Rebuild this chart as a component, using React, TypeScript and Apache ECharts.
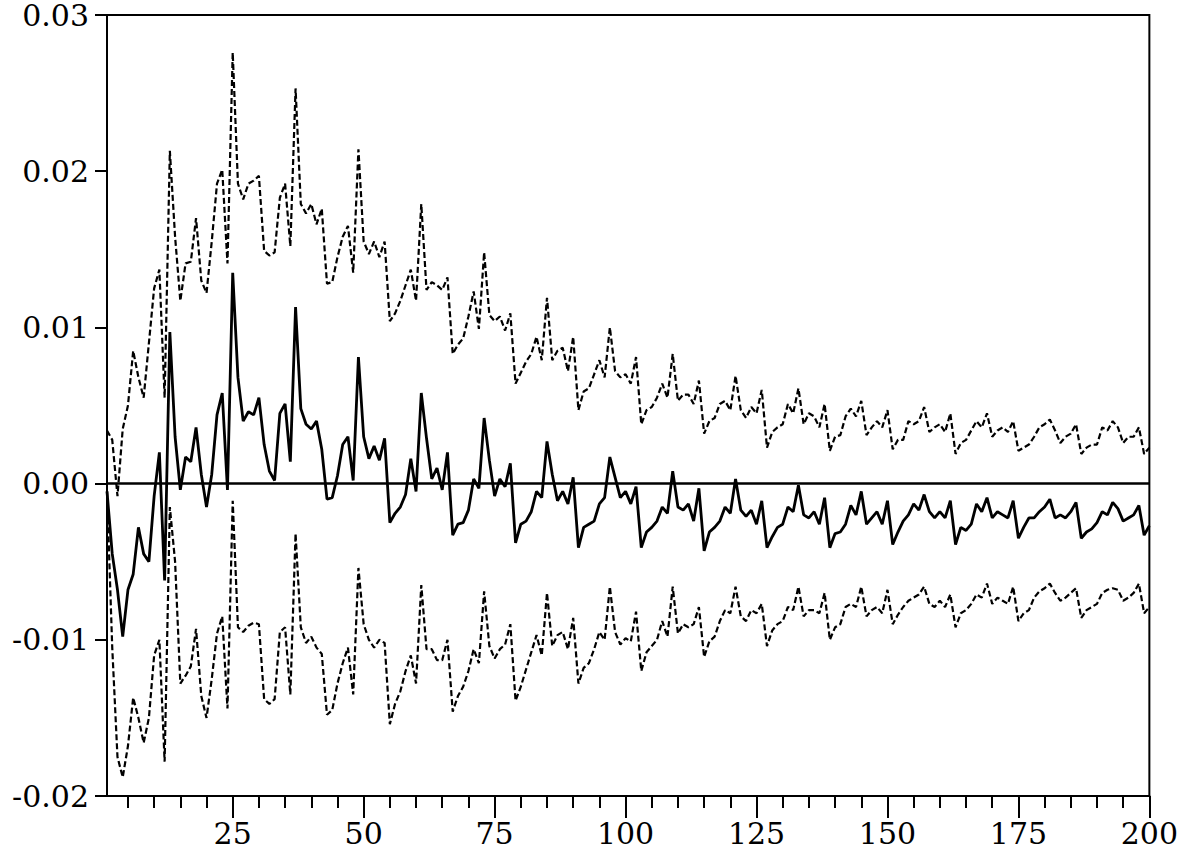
import React, { useEffect, useRef } from "react";
import * as echarts from "echarts";

const periods: string[] = Array.from({ length: 200 }, (_, i) => String(i + 1));

const response: number[] = [
  -0.0005, -0.0045, -0.0068, -0.0098, -0.0068, -0.0058, -0.0028, -0.0045, -0.0050, -0.0008,
  0.0020, -0.0062, 0.0097, 0.0030, -0.0004, 0.0017, 0.0014, 0.0036, 0.0006, -0.0015,
  0.0006, 0.0044, 0.0058, -0.0004, 0.0135, 0.0068, 0.0040, 0.0046, 0.0044, 0.0055,
  0.0025, 0.0008, 0.0002, 0.0045, 0.0051, 0.0014, 0.0113, 0.0048, 0.0038, 0.0035,
  0.0040, 0.0022, -0.0010, -0.0009, 0.0005, 0.0025, 0.0030, 0.0002, 0.0081, 0.0030,
  0.0016, 0.0024, 0.0015, 0.0029, -0.0025, -0.0019, -0.0015, -0.0007, 0.0016, -0.0005,
  0.0058, 0.0029, 0.0003, 0.0010, -0.0004, 0.0020, -0.0033, -0.0026, -0.0025, -0.0017,
  0.0003, -0.0003, 0.0042, 0.0015, -0.0008, 0.0003, -0.0002, 0.0013, -0.0038, -0.0026,
  -0.0024, -0.0018, -0.0005, -0.0009, 0.0027, 0.0006, -0.0011, -0.0005, -0.0013, 0.0004,
  -0.0041, -0.0028, -0.0026, -0.0024, -0.0013, -0.0009, 0.0017, 0.0004, -0.0009, -0.0005,
  -0.0013, -0.0002, -0.0041, -0.0031, -0.0028, -0.0024, -0.0015, -0.0019, 0.0008, -0.0015,
  -0.0017, -0.0013, -0.0024, -0.0003, -0.0043, -0.0031, -0.0028, -0.0024, -0.0015, -0.0019,
  0.0003, -0.0017, -0.0021, -0.0017, -0.0026, -0.0011, -0.0041, -0.0034, -0.0028, -0.0026,
  -0.0015, -0.0018, -0.0001, -0.0020, -0.0022, -0.0018, -0.0026, -0.0009, -0.0041, -0.0032,
  -0.0031, -0.0026, -0.0014, -0.0020, -0.0005, -0.0026, -0.0022, -0.0018, -0.0026, -0.0011,
  -0.0039, -0.0031, -0.0024, -0.0020, -0.0013, -0.0017, -0.0007, -0.0018, -0.0022, -0.0018,
  -0.0022, -0.0011, -0.0039, -0.0028, -0.0030, -0.0026, -0.0013, -0.0018, -0.0009, -0.0022,
  -0.0018, -0.0020, -0.0022, -0.0011, -0.0035, -0.0028, -0.0022, -0.0022, -0.0018, -0.0015,
  -0.0010, -0.0022, -0.0020, -0.0022, -0.0018, -0.0012, -0.0035, -0.0031, -0.0029, -0.0025,
  -0.0018, -0.0020, -0.0012, -0.0016, -0.0024, -0.0022, -0.0020, -0.0014, -0.0033, -0.0027,
];

const upperBand: number[] = [
  0.0034, 0.0028, -0.0008, 0.0035, 0.0050, 0.0085, 0.0068, 0.0055, 0.0090, 0.0125,
  0.0137, 0.0055, 0.0213, 0.0158, 0.0117, 0.0141, 0.0142, 0.0170, 0.0130, 0.0122,
  0.0155, 0.0192, 0.0201, 0.0141, 0.0276, 0.0192, 0.0182, 0.0192, 0.0194, 0.0197,
  0.0149, 0.0146, 0.0148, 0.0183, 0.0192, 0.0152, 0.0253, 0.0179, 0.0173, 0.0179,
  0.0166, 0.0176, 0.0128, 0.0129, 0.0145, 0.0158, 0.0165, 0.0135, 0.0214, 0.0155,
  0.0147, 0.0155, 0.0145, 0.0155, 0.0104, 0.0109, 0.0117, 0.0127, 0.0137, 0.0117,
  0.0179, 0.0124, 0.0129, 0.0127, 0.0124, 0.0132, 0.0083, 0.0089, 0.0093, 0.0107,
  0.0123, 0.0099, 0.0148, 0.0108, 0.0104, 0.0107, 0.0098, 0.0109, 0.0064, 0.0071,
  0.0078, 0.0083, 0.0094, 0.0079, 0.0119, 0.0079, 0.0085, 0.0087, 0.0072, 0.0094,
  0.0047, 0.0059, 0.0061, 0.0070, 0.0079, 0.0068, 0.0100, 0.0072, 0.0068, 0.0070,
  0.0064, 0.0081, 0.0038, 0.0047, 0.0049, 0.0055, 0.0064, 0.0055, 0.0083, 0.0053,
  0.0057, 0.0057, 0.0051, 0.0066, 0.0032, 0.0040, 0.0042, 0.0051, 0.0053, 0.0047,
  0.0069, 0.0047, 0.0042, 0.0049, 0.0045, 0.0060, 0.0023, 0.0033, 0.0036, 0.0038,
  0.0051, 0.0045, 0.0061, 0.0038, 0.0045, 0.0043, 0.0036, 0.0051, 0.0021, 0.0030,
  0.0031, 0.0043, 0.0048, 0.0043, 0.0053, 0.0031, 0.0036, 0.0040, 0.0036, 0.0047,
  0.0022, 0.0028, 0.0028, 0.0040, 0.0038, 0.0040, 0.0049, 0.0033, 0.0036, 0.0038,
  0.0033, 0.0045, 0.0019, 0.0026, 0.0028, 0.0034, 0.0040, 0.0036, 0.0045, 0.0030,
  0.0034, 0.0036, 0.0033, 0.0040, 0.0021, 0.0023, 0.0025, 0.0030, 0.0036, 0.0038,
  0.0041, 0.0034, 0.0026, 0.0030, 0.0032, 0.0038, 0.0019, 0.0023, 0.0025, 0.0025,
  0.0036, 0.0034, 0.0040, 0.0036, 0.0026, 0.0030, 0.0030, 0.0036, 0.0019, 0.0023,
];

const lowerBand: number[] = [
  -0.0005, -0.0105, -0.0175, -0.0188, -0.0168, -0.0137, -0.0150, -0.0166, -0.0150, -0.0110,
  -0.0100, -0.0178, -0.0015, -0.0050, -0.0128, -0.0123, -0.0117, -0.0093, -0.0136, -0.0150,
  -0.0125, -0.0096, -0.0085, -0.0144, -0.0011, -0.0092, -0.0095, -0.0091, -0.0089, -0.0090,
  -0.0138, -0.0141, -0.0138, -0.0095, -0.0092, -0.0135, -0.0032, -0.0092, -0.0102, -0.0098,
  -0.0105, -0.0109, -0.0148, -0.0145, -0.0128, -0.0115, -0.0105, -0.0135, -0.0054, -0.0090,
  -0.0100, -0.0105, -0.0100, -0.0102, -0.0154, -0.0141, -0.0133, -0.0120, -0.0110, -0.0128,
  -0.0065, -0.0106, -0.0106, -0.0113, -0.0113, -0.0100, -0.0146, -0.0136, -0.0130, -0.0120,
  -0.0106, -0.0115, -0.0069, -0.0104, -0.0112, -0.0106, -0.0103, -0.0090, -0.0139, -0.0130,
  -0.0119, -0.0108, -0.0097, -0.0110, -0.0070, -0.0104, -0.0097, -0.0095, -0.0106, -0.0086,
  -0.0128, -0.0118, -0.0115, -0.0106, -0.0095, -0.0100, -0.0066, -0.0095, -0.0103, -0.0099,
  -0.0101, -0.0082, -0.0120, -0.0108, -0.0104, -0.0100, -0.0088, -0.0098, -0.0066, -0.0096,
  -0.0090, -0.0092, -0.0090, -0.0079, -0.0111, -0.0101, -0.0098, -0.0088, -0.0081, -0.0083,
  -0.0066, -0.0085, -0.0088, -0.0081, -0.0083, -0.0077, -0.0104, -0.0094, -0.0090, -0.0088,
  -0.0079, -0.0081, -0.0066, -0.0085, -0.0081, -0.0081, -0.0083, -0.0070, -0.0100, -0.0092,
  -0.0090, -0.0079, -0.0077, -0.0079, -0.0066, -0.0085, -0.0081, -0.0079, -0.0083, -0.0068,
  -0.0090, -0.0084, -0.0079, -0.0075, -0.0073, -0.0071, -0.0066, -0.0077, -0.0079, -0.0075,
  -0.0079, -0.0071, -0.0092, -0.0083, -0.0081, -0.0077, -0.0071, -0.0073, -0.0064, -0.0077,
  -0.0073, -0.0075, -0.0077, -0.0066, -0.0088, -0.0083, -0.0081, -0.0073, -0.0069, -0.0067,
  -0.0064, -0.0070, -0.0075, -0.0073, -0.0070, -0.0067, -0.0086, -0.0081, -0.0079, -0.0077,
  -0.0070, -0.0068, -0.0067, -0.0068, -0.0075, -0.0073, -0.0070, -0.0064, -0.0083, -0.0079,
];

const yMin = -0.02;
const yMax = 0.03;
const yStep = 0.01;

const FONT = "DejaVu Serif";

export default function App() {
  const ref = useRef<HTMLDivElement | null>(null);

  useEffect(() => {
    if (!ref.current) return;
    const chart = echarts.init(ref.current, undefined, { renderer: "svg" });
    const dashed = { color: "#000", width: 2.2, type: [6, 3] as number[] };
    chart.setOption({
      animation: false,
      backgroundColor: "#fff",
      grid: {
        left: 107,
        right: 28,
        top: 15,
        bottom: 62,
        show: true,
        borderColor: "#000",
        borderWidth: 2,
        backgroundColor: "transparent",
      },
      xAxis: [
        {
          type: "category",
          data: periods,
          boundaryGap: false,
          position: "bottom",
          axisLine: { show: true, onZero: false, lineStyle: { color: "#000", width: 2 } },
          axisTick: {
            show: true,
            length: 12,
            interval: (index: number) => (index + 1) % 5 === 0,
            lineStyle: { color: "#000", width: 2 },
          },
          axisLabel: { show: false },
          splitLine: { show: false },
        },
        {
          type: "category",
          data: periods,
          boundaryGap: false,
          position: "bottom",
          axisLine: { show: false, onZero: false },
          axisTick: {
            show: true,
            length: 22,
            interval: (index: number) => (index + 1) % 25 === 0,
            lineStyle: { color: "#000", width: 2 },
          },
          axisLabel: {
            show: true,
            interval: (index: number) => (index + 1) % 25 === 0,
            margin: 22,
            color: "#000",
            fontFamily: FONT,
            fontSize: 30,
            lineHeight: 30,
          },
          splitLine: { show: false },
        },
      ],
      yAxis: {
        type: "value",
        min: yMin,
        max: yMax,
        interval: yStep,
        axisLine: { show: true, lineStyle: { color: "#000", width: 2 } },
        axisTick: { show: true, length: 12, lineStyle: { color: "#000", width: 2 } },
        axisLabel: {
          margin: 18,
          color: "#000",
          fontFamily: FONT,
          fontSize: 30,
          lineHeight: 24,
          formatter: (v: number) => v.toFixed(2),
        },
        splitLine: { show: false },
      },
      series: [
        {
          name: "Upper",
          type: "line",
          data: upperBand,
          showSymbol: false,
          lineStyle: dashed,
          z: 2,
        },
        {
          name: "Lower",
          type: "line",
          data: lowerBand,
          showSymbol: false,
          lineStyle: dashed,
          z: 2,
        },
        {
          name: "Response",
          type: "line",
          data: response,
          showSymbol: false,
          lineStyle: { color: "#000", width: 2.8, type: "solid" },
          z: 3,
          markLine: {
            silent: true,
            symbol: "none",
            label: { show: false },
            lineStyle: { color: "#000", width: 2.5, type: "solid" },
            data: [{ yAxis: 0 }],
          },
        },
      ],
    });
    return () => chart.dispose();
  }, []);

  return (
    <div
      ref={ref}
      style={{ position: "fixed", left: 0, top: 0, width: 1181, height: 858, background: "#fff" }}
    />
  );
}
